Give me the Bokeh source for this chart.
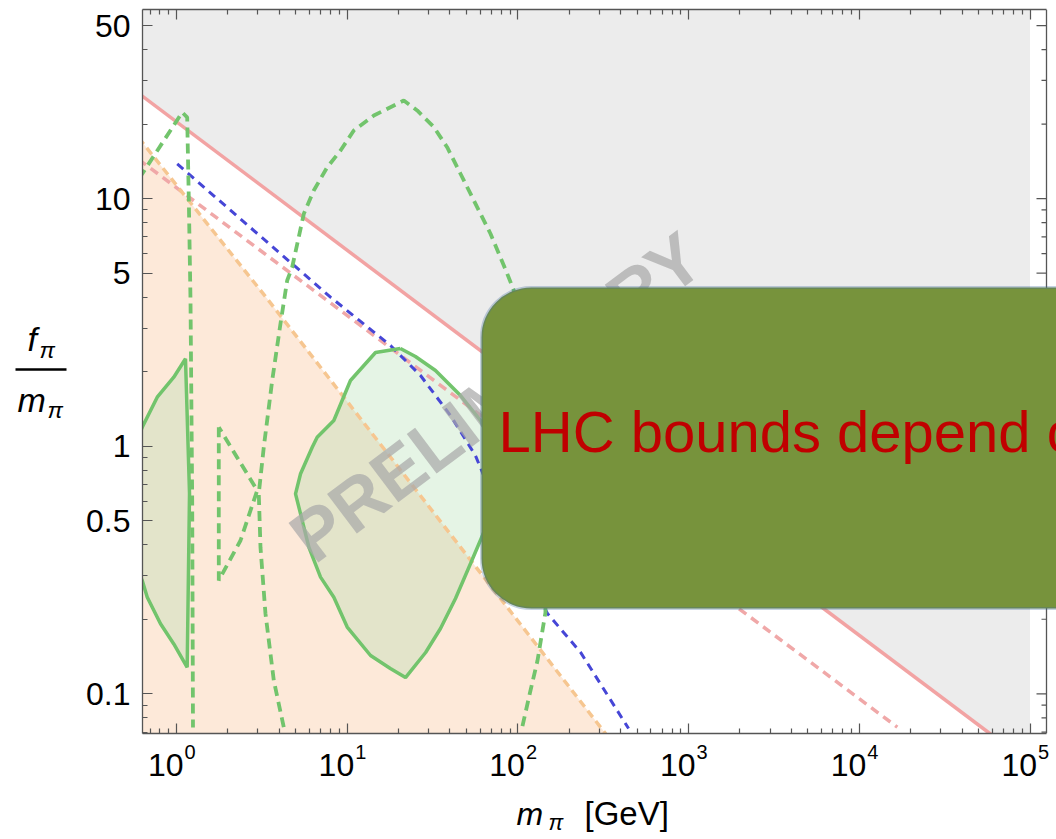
import math
from bokeh.plotting import figure
from bokeh.layouts import row, column
from bokeh.core.properties import value
from bokeh.models import FixedTicker, LogAxis, CustomJSTickFormatter, Label, BoxAnnotation, Span, Range1d
from bokeh.embed import file_html
from bokeh.resources import INLINE

# ---------------- data ----------------
x_major = [1, 10, 100, 1000, 10000, 100000]
y_major = [0.1, 0.5, 1, 5, 10, 50]
y_minor = [0.07, 0.08, 0.09, 0.2, 0.3, 0.4, 0.6, 0.7, 0.8, 0.9,
           2, 3, 4, 6, 7, 8, 9, 20, 30, 40]

pink_solid_x = [0.6, 60000]
pink_solid_y = [26.6, 0.068]
gray_x = [0.6, 60000, 100000, 100000, 0.6]
gray_y = [26.6, 0.068, 0.068, 60, 60]

pink_dash_x = [0.6, 16700]
pink_dash_y = [14.4, 0.0733]

blue_x = [1.01, 7.98, 17.93, 26.88, 40.3, 56.4, 90.5, 149, 233, 445]
blue_y = [13.8, 4.0, 2.55, 1.93, 1.33, 0.917, 0.416, 0.211, 0.147, 0.0724]

orange_x = [0.6, 3.4, 327]
orange_y = [17.6, 3.94, 0.0689]

green_dash1_x = [0.538, 0.630, 1.080, 1.155, 1.181, 1.208, 1.236, 1.249]
green_dash1_y = [10.66, 12.6, 22.3, 21.3, 9.83, 3.88, 0.603, 0.0731]

green_dash2_x = [4.25, 3.715, 3.32, 3.105, 3.034, 3.246, 3.636, 4.067, 4.45, 4.76,
                 5.57, 6.37, 7.64, 9.14, 10.93, 14.32, 21.46, 25.7, 32.2, 38.5,
                 46.1, 55.2, 69.1, 86.6, 94.6, 118.5, 145, 145, 130.3, 118.5, 106]
green_dash2_y = [0.0733, 0.1132, 0.211, 0.390, 0.644, 0.991, 1.842, 3.13, 4.67, 5.28,
                 8.68, 10.78, 13.39, 15.64, 18.84, 21.65, 24.9, 22.7, 19.43, 16.13,
                 12.6, 9.83, 7.21, 4.97, 4.26, 1.53, 0.4565, 0.213, 0.1363, 0.1031, 0.0733]

green_dash3_x = [1.769, 1.769, 2.371, 2.97, 1.769]
green_dash3_y = [1.193, 0.287, 0.416, 0.663, 1.193]

contourA_x = [0.503, 0.630, 0.771, 0.964, 1.129, 1.168, 1.192, 1.155, 0.964, 0.806, 0.674, 0.630, 0.503]
contourA_y = [0.836, 1.193, 1.577, 1.899, 2.254, 1.025, 0.644, 0.128, 0.159, 0.1918, 0.2455, 0.2869, 0.397]

contourB_x = [20.5, 14.65, 10.45, 8.35, 6.67, 6.24, 5.33, 4.98, 5.33, 5.96, 6.98, 8.35, 10.0,
              13.7, 17.9, 21.96, 28.8, 35.2, 43.1, 52.8, 62.0, 79.1, 73.9, 60.4, 46.1, 32.9, 25.1]
contourB_y = [2.48, 2.39, 1.842, 1.270, 1.087, 0.991, 0.774, 0.642, 0.533, 0.391, 0.296, 0.2455, 0.186,
              0.1428, 0.1265, 0.1163, 0.1468, 0.1835, 0.2426, 0.336, 0.436, 0.663, 0.961, 1.270, 1.602, 2.022, 2.303]

box_text = "LHC bounds depend on"
watermark = "PRELIMINARY"

# ---------------- layout helpers (window pixel -> data on the log axes) ----------------
LX0, DX, LY0, DY = 176.0, 170.7, 445.7, 247.6
def px2x(px):
    return 10 ** ((px - LX0) / DX)
def py2y(py):
    return 10 ** ((LY0 - py) / DY)
def base(py, fs):
    # text anchor so that the alphabetic baseline lands on window row py
    return py2y(py - 0.355 * fs)

FONT = "Liberation Sans"
W_Y = 72          # width of the left strip holding the y title
H_MAIN = 740      # height of the main figure
AX = "#555555"

x_minor = [k * 10 ** e for e in range(-1, 5) for k in range(2, 10)
           if px2x(142) < k * 10 ** e < px2x(1046)]

xr = Range1d(px2x(142), px2x(1056))
p = figure(width=1056 - W_Y, height=H_MAIN, x_axis_type="log", y_axis_type="log",
           x_range=xr, y_range=Range1d(py2y(733), py2y(9)),
           output_backend="svg", toolbar_location=None,
           min_border_left=142 - W_Y, min_border_right=0, min_border_top=9, min_border_bottom=7)
p.xgrid.visible = False
p.ygrid.visible = False
p.outline_line_color = None
p.background_fill_color = "white"
p.border_fill_color = "white"

xt = FixedTicker(ticks=x_major, minor_ticks=x_minor)
yt = FixedTicker(ticks=y_major, minor_ticks=y_minor)

def style(ax, ticker, labels):
    ax.ticker = ticker
    ax.axis_line_color = AX
    ax.axis_line_width = 1.3
    ax.major_tick_line_color = AX
    ax.minor_tick_line_color = AX
    ax.major_tick_line_width = 1.2
    ax.minor_tick_line_width = 1.2
    ax.major_tick_in = 10
    ax.major_tick_out = 0
    ax.minor_tick_in = 5
    ax.minor_tick_out = 0
    if not labels:
        ax.formatter = CustomJSTickFormatter(code="return ''")
        ax.major_label_standoff = 0
        ax.major_label_text_font_size = "1px"

style(p.xaxis[0], xt, False)
p.xaxis[0].bounds = (px2x(142), px2x(1046))
style(p.yaxis[0], yt, True)
p.yaxis[0].formatter = CustomJSTickFormatter(code="return String(tick)")
p.yaxis[0].major_label_text_font = FONT
p.yaxis[0].major_label_text_font_size = "32px"
p.yaxis[0].major_label_text_color = "black"
p.yaxis[0].major_label_standoff = 12

top_ax = LogAxis()
style(top_ax, xt, False)
top_ax.bounds = (px2x(142), px2x(1046))
p.add_layout(top_ax, "above")

# ---------------- regions ----------------
p.patch(gray_x, gray_y, fill_color="#ececec", line_color=None)
p.patch(orange_x + [orange_x[0]], orange_y + [orange_y[-1]], fill_color="#fde9d9", line_color=None)
p.patch(contourA_x, contourA_y, fill_color="#a8dca8", fill_alpha=0.3, line_color=None)
p.patch(contourB_x, contourB_y, fill_color="#a8dca8", fill_alpha=0.3, line_color=None)

# ---------------- lines ----------------
p.line(pink_solid_x, pink_solid_y, line_color="#f2a3a3", line_width=3.5)
p.line(pink_dash_x, pink_dash_y, line_color="#f0a8a8", line_width=3.5, line_dash="9 6")
p.line(blue_x, blue_y, line_color="#4646d6", line_width=3, line_dash="8 6")
p.line(orange_x, orange_y, line_color="#f6c690", line_width=3.5, line_dash="8 5")
for gx, gy in [(green_dash1_x, green_dash1_y), (green_dash2_x, green_dash2_y), (green_dash3_x, green_dash3_y)]:
    p.line(gx, gy, line_color="#72c46c", line_width=3.8, line_dash="10 6")
for gx, gy in [(contourA_x, contourA_y), (contourB_x, contourB_y)]:
    p.line(gx + [gx[0]], gy + [gy[0]], line_color="#72c46c", line_width=3.5)

# ---------------- right frame edge with inward ticks ----------------
p.add_layout(Span(location=px2x(1046), dimension="height", line_color=AX, line_width=1.3))
rx = px2x(1046)
p.segment(x0=[px2x(1036)] * len(y_major), y0=y_major, x1=[rx] * len(y_major), y1=y_major,
          line_color=AX, line_width=1.2)
p.segment(x0=[px2x(1041)] * len(y_minor), y0=y_minor, x1=[rx] * len(y_minor), y1=y_minor,
          line_color=AX, line_width=1.2)

# ---------------- watermark ----------------
p.add_layout(Label(x=px2x(299), y=py2y(545), text=watermark, angle=37, angle_units="deg",
                   text_font=FONT, text_font_style="bold", text_font_size="72px",
                   text_color="#a9a9a9", text_alpha=0.72, text_baseline="alphabetic"))

# ---------------- callout box ----------------
p.add_layout(BoxAnnotation(left=px2x(481), right=px2x(1300), top=py2y(287), bottom=py2y(608),
                           fill_color="#77933c", fill_alpha=1.0, line_color="#3e6a9a",
                           line_width=3, border_radius=50, level="overlay"))
p.add_layout(Label(x=px2x(498), y=base(452, 58), text=box_text, text_font=FONT,
                   text_font_size="58px", text_color="#c00000", text_baseline="alphabetic",
                   level="overlay"))

# ---------------- bottom strip: x tick labels and x title (frame aligned with p) ----------------
xf = figure(width=1056 - W_Y, height=839 - H_MAIN, x_axis_type="log", y_axis_type="log",
            x_range=xr, y_range=Range1d(py2y(839), py2y(H_MAIN)),
            output_backend="svg", toolbar_location=None, x_axis_location=None, y_axis_location=None,
            min_border_left=142 - W_Y, min_border_right=0, min_border_top=0, min_border_bottom=0)
xf.xgrid.visible = False
xf.ygrid.visible = False
xf.outline_line_color = None
xf.background_fill_color = "white"
xf.border_fill_color = "white"

exps = [str(int(round(math.log10(t)))) for t in x_major]
xf.text(x=x_major, y=[base(776, 32)] * len(x_major), text=["10"] * len(x_major), x_offset=7,
        text_align="right", text_baseline="alphabetic", text_font=value(FONT),
        text_font_size="32px", text_color="black")
xf.text(x=x_major, y=[base(759, 20)] * len(x_major), text=exps, x_offset=8,
        text_align="left", text_baseline="alphabetic", text_font=value(FONT),
        text_font_size="20px", text_color="black")
xf.text(x=[px2x(516)], y=[base(825, 32)], text=["m"], text_font=value(FONT), text_font_style="italic",
        text_font_size="32px", text_color="black", text_baseline="alphabetic")
xf.text(x=[px2x(548)], y=[base(830, 22)], text=["π"], text_font=value(FONT), text_font_style="italic",
        text_font_size="22px", text_color="black", text_baseline="alphabetic")
xf.text(x=[px2x(584)], y=[base(825, 33)], text=["[GeV]"], text_font=value(FONT),
        text_font_size="33px", text_color="black", text_baseline="alphabetic")

# ---------------- left strip: y title f_pi / m_pi ----------------
yf = figure(width=W_Y, height=839, x_range=Range1d(0, W_Y), y_axis_type="log",
            y_range=Range1d(py2y(839), py2y(0)),
            output_backend="svg", toolbar_location=None, x_axis_location=None, y_axis_location=None,
            min_border_left=0, min_border_right=0, min_border_top=0, min_border_bottom=0)
yf.xgrid.visible = False
yf.ygrid.visible = False
yf.outline_line_color = None
yf.background_fill_color = "white"
yf.border_fill_color = "white"

yf.text(x=[27], y=[base(351, 34)], text=["f"], text_font=value(FONT), text_font_style="italic",
        text_font_size="34px", text_color="black", text_baseline="alphabetic")
yf.text(x=[39], y=[base(358, 23)], text=["π"], text_font=value(FONT), text_font_style="italic",
        text_font_size="23px", text_color="black", text_baseline="alphabetic")
yf.segment(x0=[15], y0=[py2y(369)], x1=[66], y1=[py2y(369)], line_color="black", line_width=2.5)
yf.text(x=[17], y=[base(412, 34)], text=["m"], text_font=value(FONT), text_font_style="italic",
        text_font_size="34px", text_color="black", text_baseline="alphabetic")
yf.text(x=[47], y=[base(418, 23)], text=["π"], text_font=value(FONT), text_font_style="italic",
        text_font_size="23px", text_color="black", text_baseline="alphabetic")

layout = row(yf, column(p, xf, spacing=0), spacing=0)
open("out.html", "w").write(file_html(layout, INLINE))
